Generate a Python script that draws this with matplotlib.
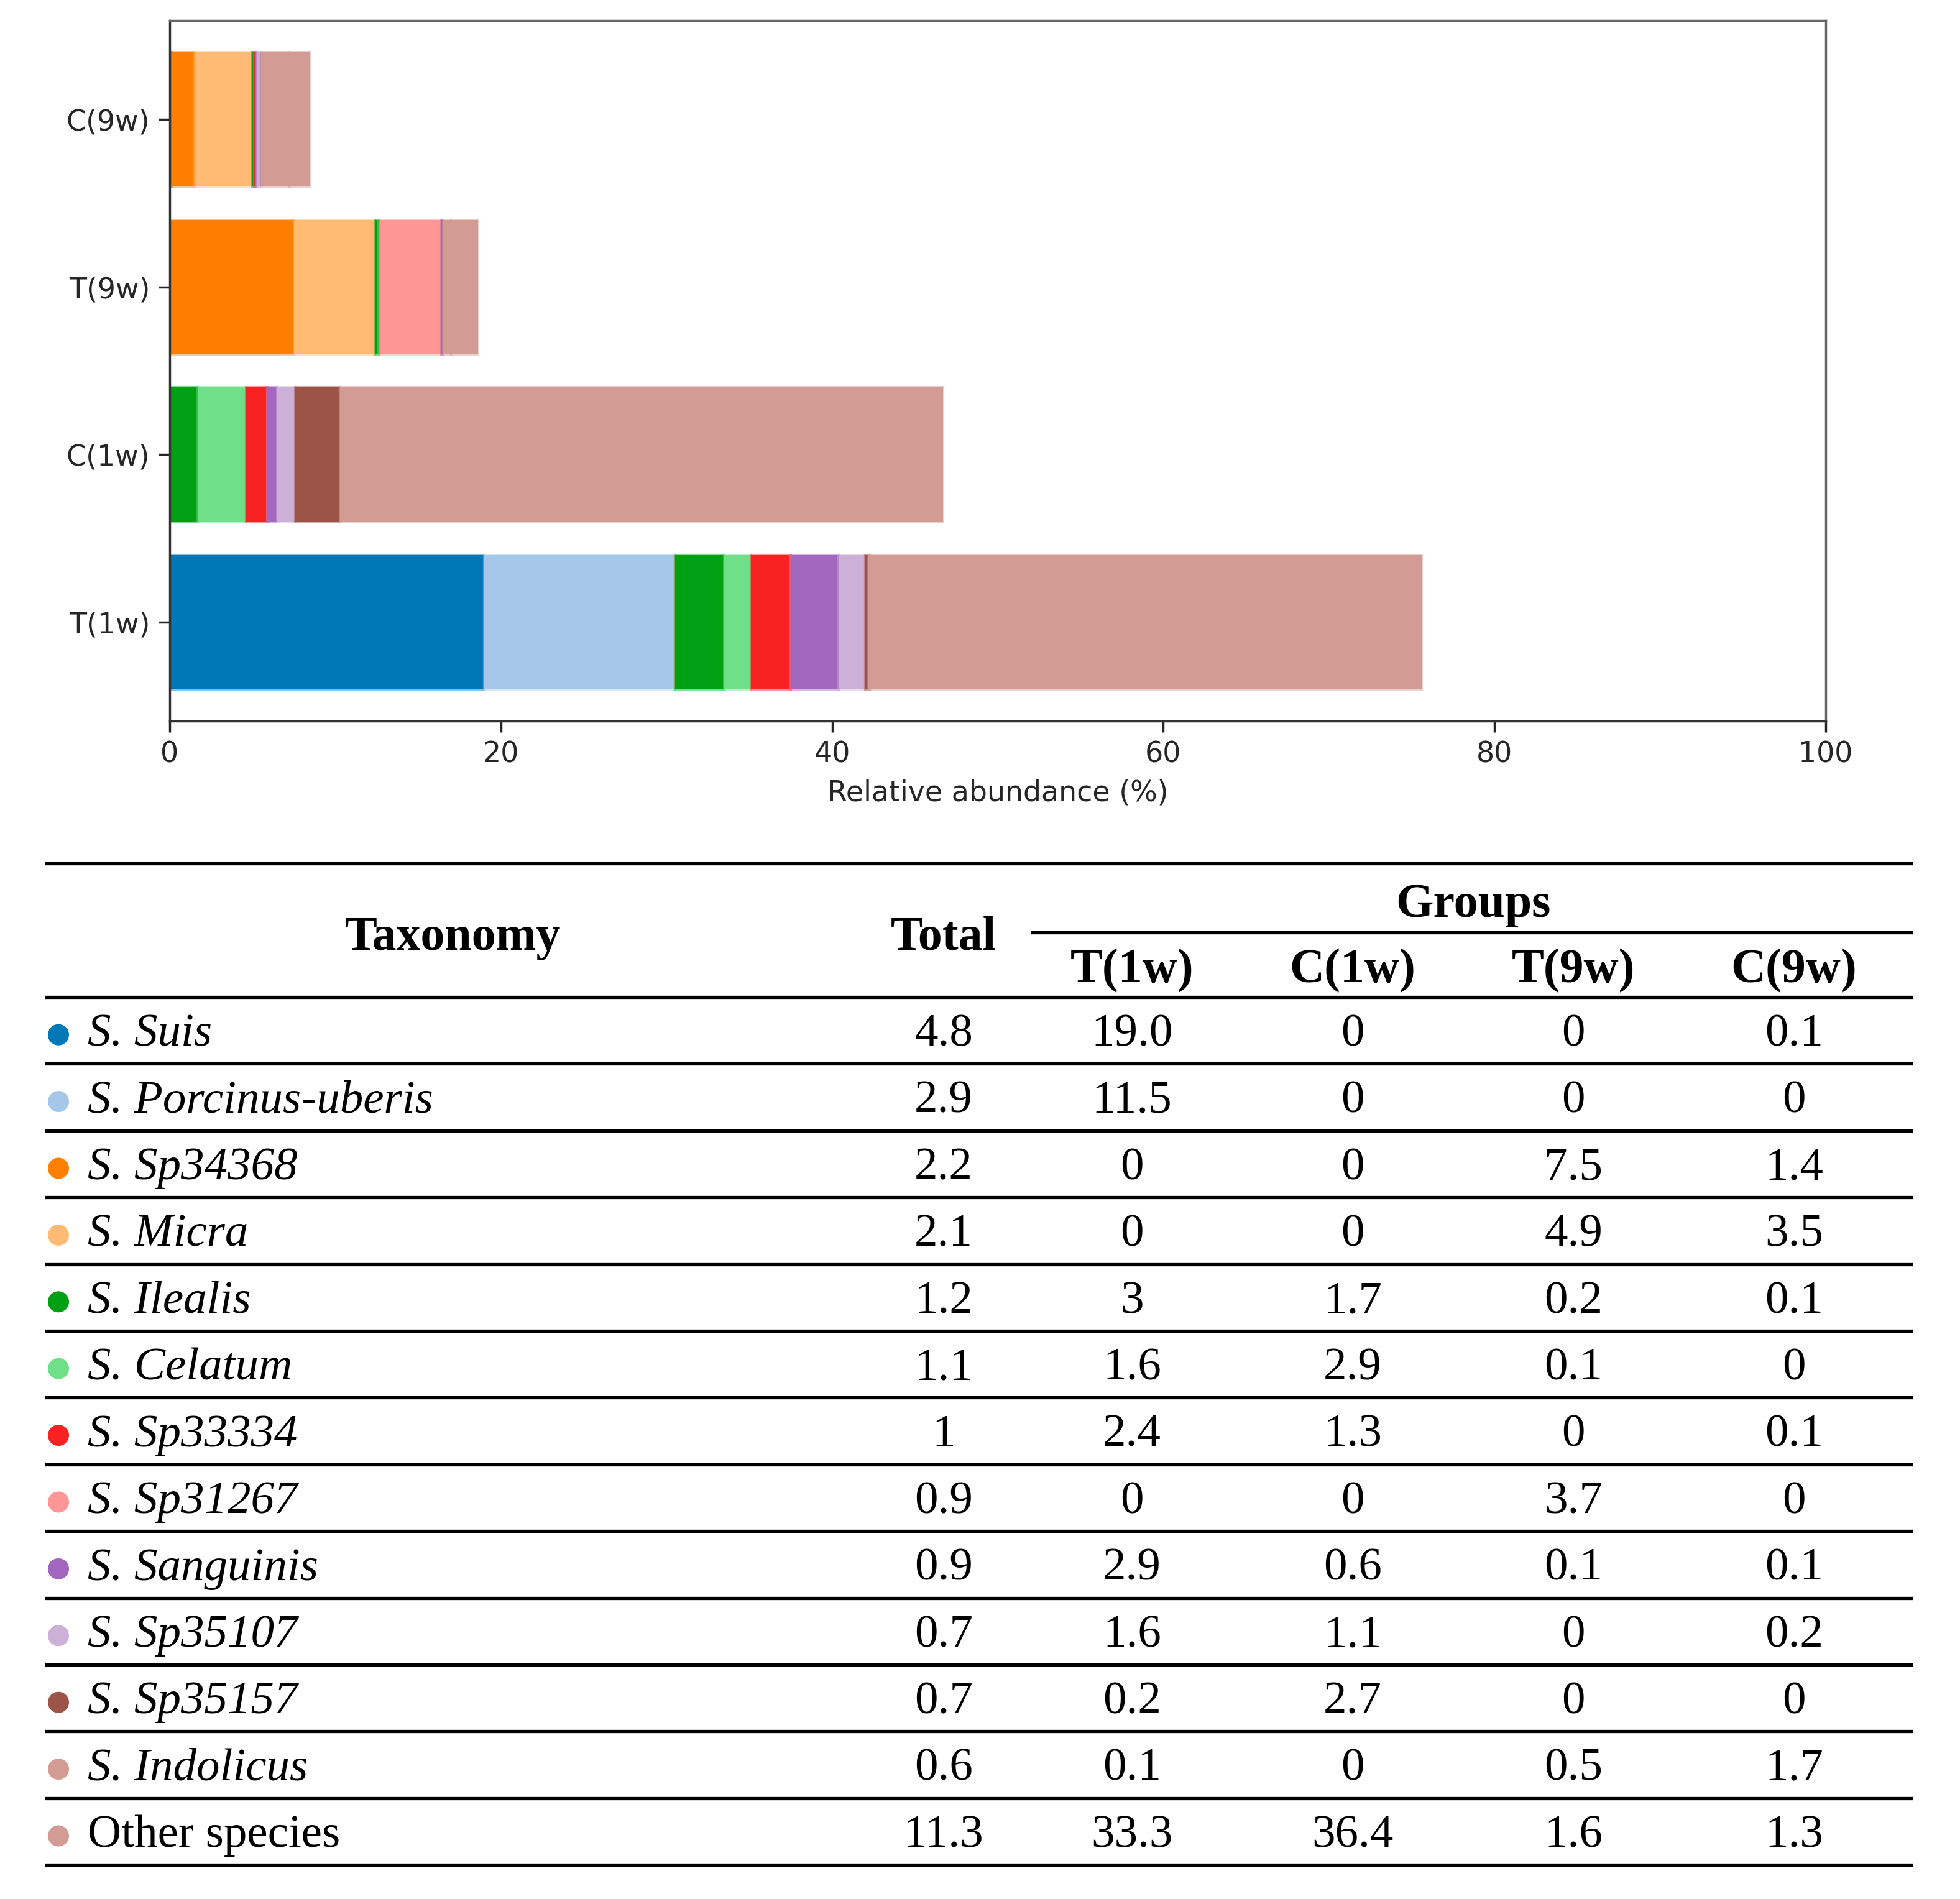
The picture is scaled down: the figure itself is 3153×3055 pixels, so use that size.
import matplotlib
matplotlib.use("Agg")
from matplotlib import pyplot as plt
from matplotlib.colors import to_rgba
import numpy as np

# ---- data ----
species = ["S. Suis", "S. Porcinus-uberis", "S. Sp34368", "S. Micra", "S. Ilealis",
           "S. Celatum", "S. Sp33334", "S. Sp31267", "S. Sanguinis", "S. Sp35107",
           "S. Sp35157", "S. Indolicus", "Other species"]
total = [4.8, 2.9, 2.2, 2.1, 1.2, 1.1, 1, 0.9, 0.9, 0.7, 0.7, 0.6, 11.3]
t_1w = [19.0, 11.5, 0, 0, 3, 1.6, 2.4, 0, 2.9, 1.6, 0.2, 0.1, 33.3]
c_1w = [0, 0, 0, 0, 1.7, 2.9, 1.3, 0, 0.6, 1.1, 2.7, 0, 36.4]
t_9w = [0, 0, 7.5, 4.9, 0.2, 0.1, 0, 3.7, 0.1, 0, 0, 0.5, 1.6]
c_9w = [0.1, 0, 1.4, 3.5, 0.1, 0, 0.1, 0, 0.1, 0.2, 0, 1.7, 1.3]
groups = ["T(1w)", "C(1w)", "T(9w)", "C(9w)"]
colors = ["#0077b6", "#a6c8e8", "#ff8000", "#ffbb73", "#00a014", "#70e088", "#f82222",
          "#ff9696", "#a268c0", "#ccb0d8", "#9c5448", "#d29b94", "#d29b94"]

W, H = 3153, 3055
fig = plt.figure(figsize=(W / 100, H / 100), dpi=100)

# ---- stacked bar chart ----
ax = fig.add_axes([273 / W, 1 - 1160 / H, (2937 - 273) / W, (1160 - 33) / H])
values = np.array([t_1w, c_1w, t_9w, c_9w])
left = np.zeros(len(groups))
for k in range(len(species)):
    ax.barh(np.arange(len(groups)), values[:, k], left=left, height=0.8,
            color=colors[k], edgecolor=to_rgba(colors[k], 0.45), linewidth=3)
    left += values[:, k]

ax.set_xlim(0, 100)
ax.set_yticks(range(len(groups)))
ax.set_yticklabels(groups)
ax.set_xlabel("Relative abundance (%)", fontsize=33, color="#262626", labelpad=12)
ax.tick_params(labelsize=33, length=13, width=2.5, pad=10, colors="#262626")
for side, sp in ax.spines.items():
    sp.set_linewidth(2.5)
    sp.set_color("#333333" if side in ("left", "bottom") else "#666666")

# ---- table below ----
tab = fig.add_axes([0, 0, 1, 1])
tab.set_xlim(0, W)
tab.set_ylim(H, 0)
tab.axis("off")
tab.patch.set_visible(False)

serif = "Liberation Serif"
fs_body, fs_head = 54, 56
x_left, x_right = 72, 3077
rule = dict(color="black", linewidth=3.8, solid_capstyle="butt")

row0, row_h = 1604, 107.4
tab.plot([x_left, x_right], [1389, 1389], **rule)
tab.plot([1658, x_right], [1500, 1500], **rule)
for i in range(len(species) + 1):
    y = row0 + i * row_h
    tab.plot([x_left, x_right], [y, y], **rule)


def put(x, y_mid, s, size, **kw):
    # y_mid is the middle of capital letters; baseline sits half a cap-height below
    tab.text(x, y_mid + 0.33 * size * 100 / 72, s, fontsize=size, family=serif,
             va="baseline", **kw)


put(728, 1502, "Taxonomy", fs_head, ha="center", weight="bold")
put(1518, 1502, "Total", fs_head, ha="center", weight="bold")
put(2370, 1449, "Groups", fs_head, ha="center", weight="bold")
col_x = [1821, 2176, 2531, 2886]
for x, g in zip(col_x, groups):
    put(x, 1555, g, fs_head, ha="center", weight="bold")

centers = row0 + row_h * (np.arange(len(species)) + 0.5)
tab.scatter(np.full(len(species), 94), centers + 7, s=600, c=colors, linewidths=0)
for i, name in enumerate(species):
    style = "normal" if name == "Other species" else "italic"
    put(141, centers[i], name, fs_body, ha="left", style=style)
    put(1518, centers[i], str(total[i]), fs_body, ha="center")
    for x, col in zip(col_x, [t_1w, c_1w, t_9w, c_9w]):
        put(x, centers[i], str(col[i]), fs_body, ha="center")

fig.savefig("out.png", dpi=100)
